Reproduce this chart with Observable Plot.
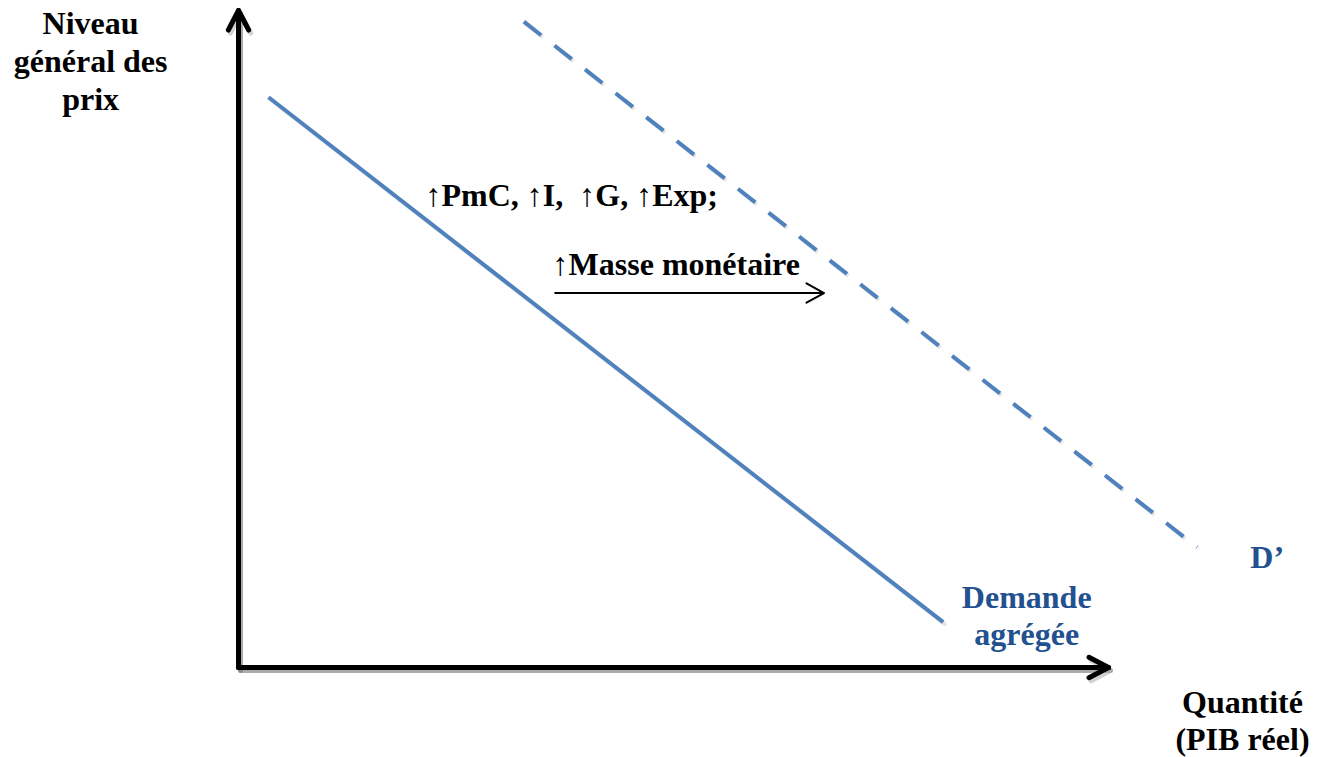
<!DOCTYPE html>
<html><head><meta charset="utf-8">
<script src="https://cdn.jsdelivr.net/npm/d3@7"></script>
<script src="https://cdn.jsdelivr.net/npm/@observablehq/plot@0.6"></script>
<style>
html,body{margin:0;padding:0;background:#fff;overflow:hidden}
svg text{font-family:"Liberation Serif","DejaVu Serif",serif !important;}
</style>
</head><body><div id="chart"></div>
<script>
// Chart units: origin at the corner of the axes, both axis arrows reach 100.
// Aggregate demand curve (quantity, price level)
const demandQ = [3.45, 81.0];
const demandP = [86.8, 6.9];
// Shifted demand curve D'
const shiftedQ = [32.8, 110.2];
const shiftedP = [98.3, 18.3];
// Axes (corner -> ends)
const axisQ = [0, 0, 100];
const axisP = [100, 0, 0];
// Shift arrow
const shiftFromQ = [36.4];
const shiftToQ = [67.3];
const shiftP = [57.0];
// Labels
const yTitle = ["Niveau\ngénéral des\nprix"];
const xTitle = ["Quantité\n(PIB réel)"];
const causesLabel = ["↑PmC, ↑I,\u00A0 ↑G, ↑Exp;"];
const moneyLabel = ["↑Masse monétaire"];
const demandLabel = ["Demande\nagrégée"];
const shiftedLabel = ["D’"];

const demand = demandQ.map((q, i) => ({q, p: demandP[i]}));
const shifted = shiftedQ.map((q, i) => ({q, p: shiftedP[i]}));
const axis = axisQ.map((q, i) => ({q, p: axisP[i]}));
const axisArrows = [
  {q1: axisQ[1], p1: axisP[1], q2: axisQ[0], p2: axisP[0]},
  {q1: axisQ[1], p1: axisP[1], q2: axisQ[2], p2: axisP[2]}
];
const shiftArrow = shiftFromQ.map((q, i) => ({q1: q, q2: shiftToQ[i], p: shiftP[i]}));

const font = "Liberation Serif";
const blueText = "#23518F";
const lineBlue = "#4F81BD";
const txt = {fontSize: 32, fontWeight: "bold", fontFamily: font, text: d => d};

const chart = Plot.plot({
  width: 1317,
  height: 757,
  margin: 0,
  x: {domain: [0, 100], range: [238, 1108], axis: null},
  y: {domain: [0, 100], range: [667, 10], axis: null},
  style: {fontFamily: font, background: "#fff"},
  marks: [
    // soft shadows
    Plot.line(axis, {x: "q", y: "p", stroke: "#000", strokeOpacity: 0.18, strokeWidth: 5, dx: 2, dy: 3}),
    Plot.arrow(axisArrows, {x1: "q1", y1: "p1", x2: "q2", y2: "p2", stroke: "#000", strokeOpacity: 0.18, strokeWidth: 5, headLength: 6.6, headAngle: 55, dx: 2, dy: 3}),
    Plot.line(demand, {x: "q", y: "p", stroke: "#000", strokeOpacity: 0.1, strokeWidth: 4, dx: 1.5, dy: 2}),
    Plot.line(shifted, {x: "q", y: "p", stroke: "#000", strokeOpacity: 0.1, strokeWidth: 4, dx: 1.5, dy: 2, strokeDasharray: "22,16.8", strokeLinecap: "butt"}),
    // axes
    Plot.line(axis, {x: "q", y: "p", stroke: "#000", strokeWidth: 5, strokeLinejoin: "miter"}),
    Plot.arrow(axisArrows, {x1: "q1", y1: "p1", x2: "q2", y2: "p2", stroke: "#000", strokeWidth: 5, headLength: 6.6, headAngle: 55, strokeLinejoin: "round", strokeLinecap: "round"}),
    // curves
    Plot.line(demand, {x: "q", y: "p", stroke: lineBlue, strokeWidth: 4, strokeLinecap: "butt"}),
    Plot.line(shifted, {x: "q", y: "p", stroke: lineBlue, strokeWidth: 4, strokeDasharray: "22,16.8", strokeLinecap: "butt"}),
    // shift arrow
    Plot.arrow(shiftArrow, {x1: "q1", y1: "p", x2: "q2", y2: "p", stroke: "#000", strokeWidth: 2, headLength: 15, headAngle: 58}),
    // labels
    Plot.text(yTitle, {...txt, x: -17.0, y: 84.8, fill: "#000", textAnchor: "middle", lineAnchor: "bottom", lineHeight: 1.19}),
    Plot.text(xTitle, {...txt, x: 115.4, y: -12.5, fill: "#000", textAnchor: "middle", lineAnchor: "bottom", lineHeight: 1.15}),
    Plot.text(causesLabel, {...txt, x: 21.5, y: 70.3, fill: "#000", textAnchor: "start", lineAnchor: "bottom"}),
    Plot.text(moneyLabel, {...txt, x: 36.1, y: 59.7, fill: "#000", textAnchor: "start", lineAnchor: "bottom"}),
    Plot.text(demandLabel, {...txt, x: 90.6, y: 3.5, fill: blueText, textAnchor: "middle", lineAnchor: "bottom", lineHeight: 1.13}),
    Plot.text(shiftedLabel, {...txt, x: 116.3, y: 15.2, fill: blueText, textAnchor: "start", lineAnchor: "bottom"})
  ]
});
document.getElementById("chart").appendChild(chart);
</script>
</body></html>
